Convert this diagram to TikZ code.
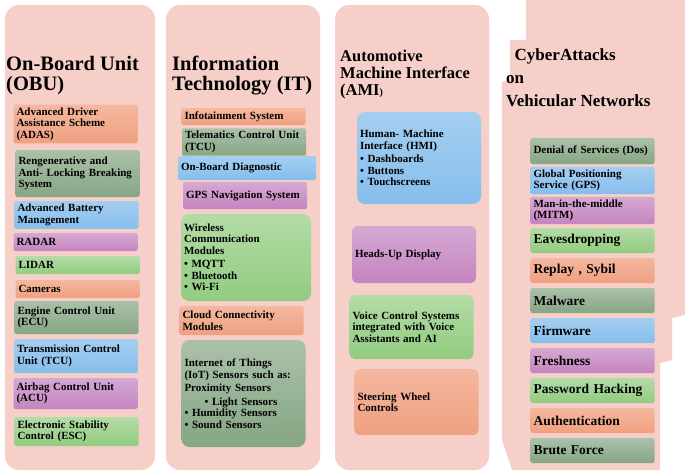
\documentclass[tikz,border=0pt]{standalone}
\usepackage{fontspec}
\setmainfont{Liberation Serif}
\usetikzlibrary{positioning}

\definecolor{panelpink}{HTML}{F6D0C8}
\definecolor{salmon}{HTML}{F0A080}
\definecolor{sage}{HTML}{86A684}
\definecolor{skyblue}{HTML}{86BEEC}
\definecolor{orchid}{HTML}{C484C0}
\definecolor{leaf}{HTML}{92CC80}

\tikzset{
  cell/.style={rounded corners=2pt,align=left,inner sep=3pt,text width=118pt,
    font=\bfseries\fontsize{11}{11.5}\selectfont,anchor=center},
  salmonbox/.style={cell,top color=salmon!75!white,bottom color=salmon},
  sagebox/.style={cell,top color=sage!70!white,bottom color=sage},
  bluebox/.style={cell,top color=skyblue!75!white,bottom color=skyblue},
  orchidbox/.style={cell,top color=orchid!70!white,bottom color=orchid},
  leafbox/.style={cell,top color=leaf!70!white,bottom color=leaf},
  heading/.style={anchor=north west,align=left,inner sep=0pt,
    font=\bfseries\fontsize{20.5}{20}\selectfont},
  bigcell/.style={font=\bfseries\fontsize{13.5}{15}\selectfont}
}

% box from its corners: name, x1, y1, x2, y2, style, text
\newcommand\cellbox[7]{%
  \node[#6,minimum width={(#4-#2)*1pt},minimum height={(#5-#3)*1pt}] (#1)
    at ({(#2+#4)/2},{(#3+#5)/2}) {#7};}

\begin{document}
\begin{tikzpicture}[x=1pt,y=-1pt]
\useasboundingbox (0,0) rectangle (685,475);

%Panels
\fill[panelpink,rounded corners=14pt] (5,5) rectangle (155,470);
\fill[panelpink,rounded corners=14pt] (166,5) rectangle (320,470);
\fill[panelpink,rounded corners=14pt] (335,5) rectangle (489,470);
\fill[panelpink] (526,0) -- (685,0) -- (685,315) -- (672,318) -- (672,360)
  -- (660,363) -- (660,470) -- (512,470) -- (502,440) -- (502,82) -- (510,80)
  -- (510,40) -- (526,40) -- cycle;

%Headings
\node[heading] (obu) at (6,56) {On-Board Unit\\(OBU)};
\node[heading] (it) at (172,56) {Information\\Technology (IT)};
\node[heading,font=\bfseries\fontsize{16.5}{17}\selectfont] (ami) at (340,50)
  {Automotive\\Machine Interface\\(AMI{\fontsize{10}{10}\selectfont)}};
\node[heading,font=\bfseries\fontsize{17}{23}\selectfont] (cyber) at (506,48)
  {\ \ CyberAttacks\\on\\Vehicular Networks};

%On-Board Unit column
\cellbox{adas}{14}{105}{137}{143}{salmonbox}{Advanced Driver\\Assistance Scheme\\(ADAS)}
\cellbox{regen}{16}{150}{139}{197}{sagebox}{Rengenerative and\\Anti- Locking Breaking\\System}
\cellbox{battery}{15}{202}{138}{228}{bluebox}{Advanced Battery\\Management}
\cellbox{radar}{14}{233}{137}{251}{orchidbox}{RADAR}
\cellbox{lidar}{16}{256}{139}{274}{leafbox}{LIDAR}
\cellbox{cameras}{16}{280}{139}{298}{salmonbox}{Cameras}
\cellbox{ecu}{15}{301}{138}{334}{sagebox}{Engine Control Unit\\(ECU)}
\cellbox{tcu}{14}{339}{138}{373}{bluebox}{Transmission Control\\Unit (TCU)}
\cellbox{acu}{14}{378}{137}{409}{orchidbox}{Airbag Control Unit\\(ACU)}
\cellbox{esc}{15}{417}{138}{446}{leafbox}{Electronic Stability\\Control (ESC)}

%Information Technology column
\cellbox{infotain}{182}{108}{305}{125}{salmonbox}{Infotainment System}
\cellbox{telematics}{183}{131}{305}{153}{sagebox}{Telematics Control Unit\\(TCU)}
\cellbox{obd}{178}{156}{316}{180}{bluebox,text width=132pt}{On-Board Diagnostic}
\cellbox{gpsnav}{183}{182}{307}{209}{orchidbox}{GPS Navigation System}
\cellbox{wireless}{181}{214}{311}{301}{leafbox,rounded corners=8pt,text width=124pt}
  {Wireless\\Communication\\Modules\\[2pt]\textbullet\ MQTT\\\textbullet\ Bluetooth\\\textbullet\ Wi-Fi}
\cellbox{cloud}{180}{306}{303}{335}{salmonbox}{Cloud Connectivity\\Modules}
\cellbox{iot}{182}{340}{305}{447}{sagebox,rounded corners=8pt}
  {Internet of Things\\(IoT) Sensors such as:\\[2pt]Proximity Sensors\\[2pt]
   \hspace*{20pt}\textbullet\ Light Sensors\\\textbullet\ Humidity Sensors\\\textbullet\ Sound Sensors\\[18pt]}

%Automotive Machine Interface column
\cellbox{hmi}{357}{112}{481}{204}{bluebox,rounded corners=8pt}
  {Human- Machine\\Interface (HMI)\\[2pt]\textbullet\ Dashboards\\\textbullet\ Buttons\\\textbullet\ Touchscreens\\[14pt]}
\cellbox{hud}{352}{226}{476}{283}{orchidbox,rounded corners=5pt}{Heads-Up Display}
\cellbox{voice}{350}{295}{473}{359}{leafbox,rounded corners=5pt}
  {Voice Control Systems\\integrated with Voice\\Assistants and AI}
\cellbox{steering}{355}{369}{478}{435}{salmonbox,rounded corners=5pt}{Steering Wheel\\Controls}

%CyberAttacks column
\cellbox{dos}{531}{138}{654}{164}{sagebox}{Denial of Services (Dos)}
\cellbox{gps}{531}{168}{654}{193}{bluebox}{Global Positioning\\Service (GPS)}
\cellbox{mitm}{531}{198}{654}{223}{orchidbox}{Man-in-the-middle\\(MITM)}
\foreach \nm/\top/\sty/\txt in {eaves/228/leafbox/Eavesdropping,replay/258/salmonbox/{Replay , Sybil},
    malware/288/sagebox/Malware,firmware/318/bluebox/Firmware,freshness/348/orchidbox/Freshness,
    password/378/leafbox/Password Hacking,auth/408/salmonbox/Authentication,brute/438/sagebox/Brute Force}
  {\cellbox{\nm}{531}{\top}{654}{\top+25}{\sty,bigcell}{\txt}}

\end{tikzpicture}
\end{document}
